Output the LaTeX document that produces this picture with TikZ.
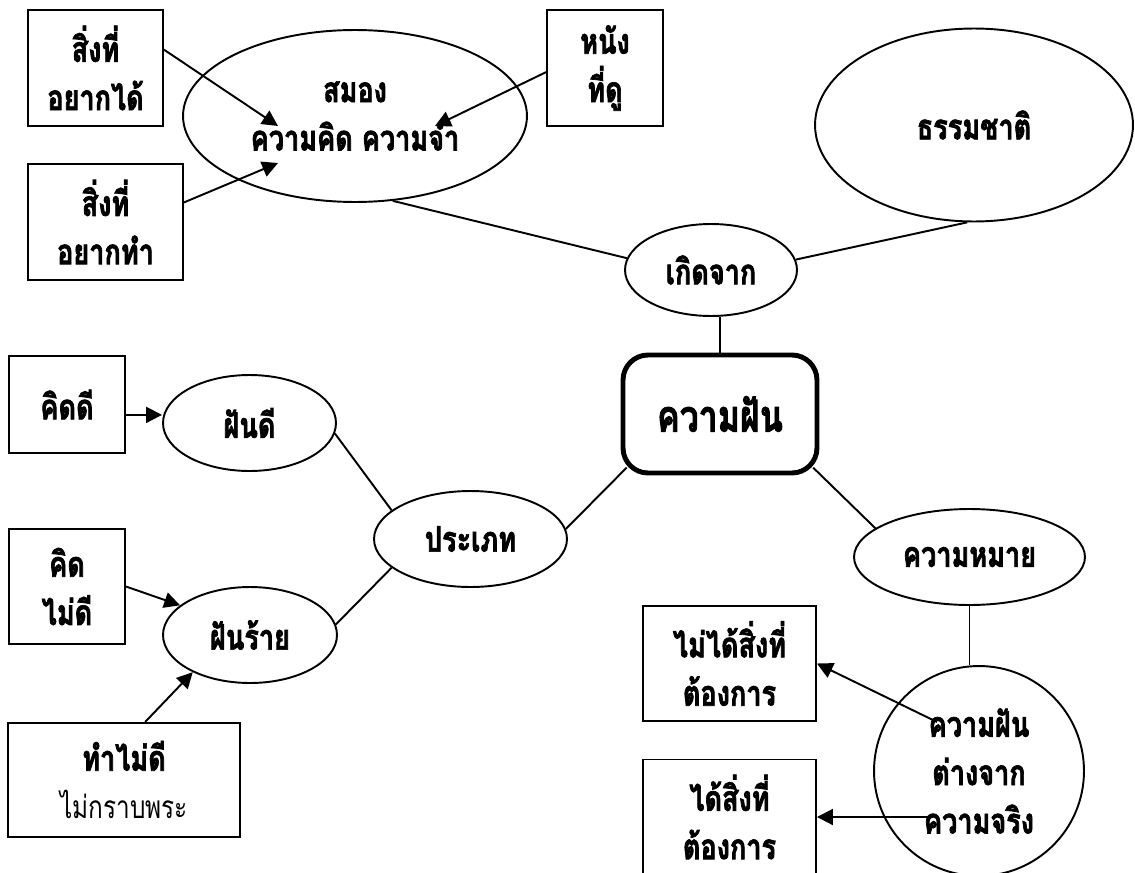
\documentclass[tikz,border=0pt]{standalone}
\usepackage{fontspec}
\setmainfont[Script=Thai, FakeStretch=0.77, BoldFeatures={FakeBold=2}]{Loma}
\usetikzlibrary{arrows.meta,shapes.geometric}

\tikzset{
  every node/.style={font=\fontsize{20}{27.5}\selectfont\bfseries},
  box/.style={draw, line width=1.1pt, rectangle, inner sep=0pt, align=center},
  oval/.style={draw, line width=1.1pt, ellipse, inner sep=0pt, align=center},
  hub/.style={draw, line width=2.8pt, rectangle, rounded corners=0.5cm, inner sep=0pt,
    align=center, font=\fontsize{25}{30}\selectfont\bfseries},
  link/.style={line width=1.1pt},
  arr/.style={line width=1.1pt, -{Triangle[length=9pt,width=9pt]}},
}

\begin{document}
\begin{tikzpicture}[x=0.02cm, y=-0.02cm]
  \useasboundingbox (0,0) rectangle (1135,872);

  % upper part: where dreams come from
  \node[box, minimum width=2.7cm, minimum height=2.32cm] (want) at (95.5,68) {สิ่งที่\\อยากได้};
  \node[box, minimum width=3.1cm, minimum height=2.32cm] (wish) at (105.5,222) {สิ่งที่\\อยากทำ};
  \node[oval, minimum width=6.88cm, minimum height=3.44cm] (brain) at (355,116) {สมอง\\ความคิด ความจำ};
  \node[box, minimum width=2.32cm, minimum height=2.32cm] (film) at (605,68) {หนัง\\ที่ดู};
  \node[oval, minimum width=6.36cm, minimum height=3.86cm] (nature) at (974,125) {ธรรมชาติ};
  \node[oval, minimum width=3.44cm, minimum height=1.84cm] (origin) at (711,270) {เกิดจาก};

  % centre
  \node[hub, minimum width=3.88cm, minimum height=2.36cm] (dream) at (720,414) {ความฝัน};

  % left part: kinds of dreams
  \node[box, minimum width=2.32cm, minimum height=1.94cm] (goodthought) at (67,404.5) {คิดดี};
  \node[oval, minimum width=3.46cm, minimum height=1.92cm] (gooddream) at (249.5,423) {ฝันดี};
  \node[oval, minimum width=3.86cm, minimum height=1.92cm] (kind) at (470.5,539) {ประเภท};
  \node[box, minimum width=2.32cm, minimum height=2.30cm] (badthought) at (67,586.5) {คิด\\ไม่ดี};
  \node[oval, minimum width=3.48cm, minimum height=1.92cm] (baddream) at (250,635) {ฝันร้าย};
  \node[box, minimum width=4.64cm, minimum height=2.28cm] (baddeed) at (124,780)
    {ทำไม่ดี\\{\mdseries\fontsize{18}{27.5}\selectfont ไม่กราบพระ}};

  % right part: meaning
  \node[oval, minimum width=4.62cm, minimum height=1.92cm] (meaning) at (969.5,557) {ความหมาย};
  \node[draw, line width=1.1pt, circle, inner sep=0pt, minimum size=4.2cm, align=center]
    (unreal) at (979,771) {ความฝัน\\ต่างจาก\\ความจริง};
  \node[box, minimum width=3.46cm, minimum height=2.30cm] (notget) at (729.5,663.5) {ไม่ได้สิ่งที่\\ต้องการ};
  \node[box, minimum width=3.46cm, minimum height=2.30cm] (get) at (729.5,817) {ได้สิ่งที่\\ต้องการ};

  % arrow ends inside the brain oval and the circle
  \coordinate (brainA) at (278,126);
  \coordinate (brainB) at (278,163);
  \coordinate (brainC) at (435,126);
  \coordinate (unrealA) at (937,722);
  \coordinate (unrealB) at (933,817);

  % arrows
  \draw[arr] (want.15.7) -- (brainA);
  \draw[arr] (wish.14.5) -- (brainB);
  \draw[arr] (film.184) -- (brainC);
  \draw[arr] (goodthought.-10) -- (goodthought.-10 -| gooddream.west);
  \draw[arr] (badthought.east) -- (baddream.157);
  \draw[arr] (baddeed.70) -- (baddream.213);
  \draw[arr] (unrealA) -- (notget.east);
  \draw[arr] (unrealB) -- (get.east);

  % plain links
  \draw[link] (brain.-66) -- (origin.172);
  \draw[link] (origin.7) -- (nature.-94);
  \draw[link] (dream.north) -- (dream.north |- origin.south);
  \draw[link, shorten <=-5pt] (dream.211) -- (kind.6);
  \draw[link, shorten <=-5pt] (dream.-31) -- (meaning.163);
  \draw[link] (gooddream.-7) -- (kind.160);
  \draw[link] (kind.200) -- (baddream.7);
  \draw[link] (meaning.south) -- (meaning.south |- unreal.north);
\end{tikzpicture}
\end{document}
